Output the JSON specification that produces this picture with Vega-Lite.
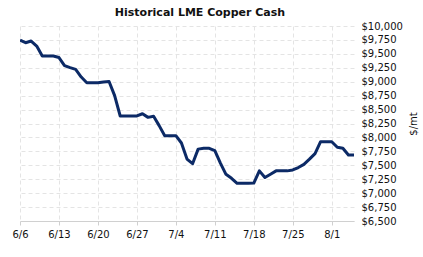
{
  "$schema": "https://vega.github.io/schema/vega-lite/v6.json",
  "autosize": "none",
  "width": 334,
  "height": 195,
  "padding": {"left": 20, "top": 26, "right": 69, "bottom": 36},
  "background": "white",
  "title": {
    "text": "Historical LME Copper Cash",
    "font": "DejaVu Sans",
    "fontSize": 11,
    "fontWeight": "bold",
    "color": "#111111",
    "anchor": "middle",
    "dx": 13,
    "offset": 3
  },
  "data": {
    "values": [
      {"date": "2022-06-06", "price": 9745},
      {"date": "2022-06-07", "price": 9700},
      {"date": "2022-06-08", "price": 9730},
      {"date": "2022-06-09", "price": 9640},
      {"date": "2022-06-10", "price": 9461},
      {"date": "2022-06-11", "price": 9461},
      {"date": "2022-06-12", "price": 9461},
      {"date": "2022-06-13", "price": 9434},
      {"date": "2022-06-14", "price": 9290},
      {"date": "2022-06-15", "price": 9253},
      {"date": "2022-06-16", "price": 9222},
      {"date": "2022-06-17", "price": 9084},
      {"date": "2022-06-18", "price": 8982},
      {"date": "2022-06-19", "price": 8982},
      {"date": "2022-06-20", "price": 8983},
      {"date": "2022-06-21", "price": 8994},
      {"date": "2022-06-22", "price": 9005},
      {"date": "2022-06-23", "price": 8750},
      {"date": "2022-06-24", "price": 8385},
      {"date": "2022-06-25", "price": 8385},
      {"date": "2022-06-26", "price": 8385},
      {"date": "2022-06-27", "price": 8385},
      {"date": "2022-06-28", "price": 8425},
      {"date": "2022-06-29", "price": 8360},
      {"date": "2022-06-30", "price": 8380},
      {"date": "2022-07-01", "price": 8212},
      {"date": "2022-07-02", "price": 8031},
      {"date": "2022-07-03", "price": 8031},
      {"date": "2022-07-04", "price": 8031},
      {"date": "2022-07-05", "price": 7900},
      {"date": "2022-07-06", "price": 7612},
      {"date": "2022-07-07", "price": 7528},
      {"date": "2022-07-08", "price": 7790},
      {"date": "2022-07-09", "price": 7805},
      {"date": "2022-07-10", "price": 7805},
      {"date": "2022-07-11", "price": 7765},
      {"date": "2022-07-12", "price": 7540},
      {"date": "2022-07-13", "price": 7338},
      {"date": "2022-07-14", "price": 7266},
      {"date": "2022-07-15", "price": 7176},
      {"date": "2022-07-16", "price": 7176},
      {"date": "2022-07-17", "price": 7176},
      {"date": "2022-07-18", "price": 7180},
      {"date": "2022-07-19", "price": 7400},
      {"date": "2022-07-20", "price": 7280},
      {"date": "2022-07-21", "price": 7340},
      {"date": "2022-07-22", "price": 7400},
      {"date": "2022-07-23", "price": 7400},
      {"date": "2022-07-24", "price": 7400},
      {"date": "2022-07-25", "price": 7416},
      {"date": "2022-07-26", "price": 7459},
      {"date": "2022-07-27", "price": 7517},
      {"date": "2022-07-28", "price": 7610},
      {"date": "2022-07-29", "price": 7709},
      {"date": "2022-07-30", "price": 7923},
      {"date": "2022-07-31", "price": 7923},
      {"date": "2022-08-01", "price": 7923},
      {"date": "2022-08-02", "price": 7823},
      {"date": "2022-08-03", "price": 7805},
      {"date": "2022-08-04", "price": 7684},
      {"date": "2022-08-05", "price": 7684}
    ]
  },
  "mark": {"type": "line", "color": "#0c2a66", "strokeWidth": 3, "strokeJoin": "round", "clip": true},
  "encoding": {
    "x": {
      "field": "date",
      "type": "temporal",
      "scale": {
        "type": "utc",
        "domain": [
          {"year": 2022, "month": 6, "date": 6, "utc": true},
          {"year": 2022, "month": 8, "date": 5, "utc": true}
        ]
      },
      "axis": {
        "title": null,
        "values": [
          {"year": 2022, "month": 6, "date": 6, "utc": true},
          {"year": 2022, "month": 6, "date": 13, "utc": true},
          {"year": 2022, "month": 6, "date": 20, "utc": true},
          {"year": 2022, "month": 6, "date": 27, "utc": true},
          {"year": 2022, "month": 7, "date": 4, "utc": true},
          {"year": 2022, "month": 7, "date": 11, "utc": true},
          {"year": 2022, "month": 7, "date": 18, "utc": true},
          {"year": 2022, "month": 7, "date": 25, "utc": true},
          {"year": 2022, "month": 8, "date": 1, "utc": true}
        ],
        "format": "%-m/%-d",
        "labelFont": "DejaVu Sans",
        "labelFontSize": 10,
        "labelColor": "#111111",
        "labelPadding": 4,
        "labelFlush": false,
        "domainColor": "#d0d0d0",
        "tickColor": "#d0d0d0",
        "tickSize": 4,
        "grid": true,
        "gridColor": "#e4e4e4",
        "gridDash": [4, 3]
      }
    },
    "y": {
      "field": "price",
      "type": "quantitative",
      "scale": {"domain": [6500, 10000], "nice": false, "zero": false},
      "axis": {
        "orient": "right",
        "title": "$/mt",
        "titleAngle": 270,
        "titleFont": "DejaVu Sans",
        "titleFontSize": 10,
        "titleFontWeight": "normal",
        "titleColor": "#111111",
        "titlePadding": 16,
        "values": [6500, 6750, 7000, 7250, 7500, 7750, 8000, 8250, 8500, 8750, 9000, 9250, 9500, 9750, 10000],
        "format": "$,.0f",
        "labelFont": "DejaVu Sans",
        "labelFontSize": 10,
        "labelColor": "#111111",
        "labelPadding": 7,
        "labelFlush": false,
        "domain": false,
        "ticks": false,
        "grid": true,
        "gridColor": "#e4e4e4",
        "gridDash": [4, 3]
      }
    }
  },
  "config": {"view": {"stroke": null}}
}
